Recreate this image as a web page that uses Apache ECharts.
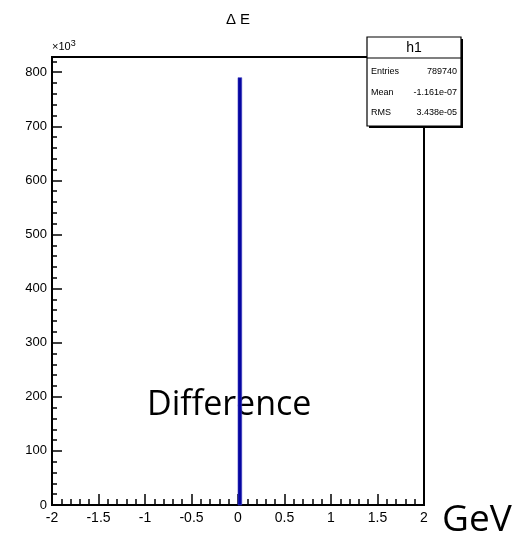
<!DOCTYPE html>
<html>
<head>
<meta charset="utf-8">
<script src="https://cdn.jsdelivr.net/npm/echarts@6/dist/echarts.min.js"></script>
<style>
html,body{margin:0;padding:0;background:#fff;}
#c{width:527px;height:536px;}
</style>
</head>
<body>
<div id="c"></div>
<script>
// Histogram data (counts in units of 10^3)
const binLow = [0];
const binHigh = [0.04];
const counts = [789.74];
const xMin = -2, xMax = 2, xStep = 0.5;
const yMin = 0, yMax = 828, yStep = 100, yMinorStep = 20;
const titleText = 'Δ E';
const histName = 'h1';
const statsLabels = ['Entries', 'Mean', 'RMS'];
const statsValues = ['789740', '-1.161e-07', '3.438e-05'];
const xUnit = 'GeV';
const noteText = 'Difference';

const chart = echarts.init(document.getElementById('c'), null, {renderer: 'canvas'});
const histData = binLow.map((lo, i) => [lo, binHigh[i], counts[i]]);
const axisFont = 'Liberation Sans, Arial, Helvetica, sans-serif';

const statsGraphic = [];
const bx = 367, by = 37, bw = 94, bh = 89;
statsGraphic.push({type: 'rect', shape: {x: bx + 2, y: by + 2, width: bw, height: bh}, style: {fill: '#000'}, z: 100});
statsGraphic.push({type: 'rect', shape: {x: bx, y: by, width: bw, height: bh}, style: {fill: '#fff', stroke: '#000', lineWidth: 1.2}, z: 101});
statsGraphic.push({type: 'line', shape: {x1: bx, y1: by + 21, x2: bx + bw, y2: by + 21}, style: {stroke: '#000', lineWidth: 1.2}, z: 102});
statsGraphic.push({type: 'text', x: bx + bw / 2, y: by + 11, style: {text: histName, fontSize: 14, fontFamily: axisFont, fill: '#000', align: 'center', verticalAlign: 'middle'}, z: 103});
statsLabels.forEach((lab, i) => {
  const yy = by + 35 + i * 20.5;
  statsGraphic.push({type: 'text', x: bx + 4, y: yy, style: {text: lab, fontSize: 9, fontFamily: axisFont, fill: '#000', align: 'left', verticalAlign: 'middle'}, z: 103});
  statsGraphic.push({type: 'text', x: bx + bw - 4, y: yy, style: {text: statsValues[i], fontSize: 9, fontFamily: axisFont, fill: '#000', align: 'right', verticalAlign: 'middle'}, z: 103});
});

const option = {
  backgroundColor: '#fff',
  animation: false,
  grid: {left: 52, right: 103, top: 57, bottom: 31, show: true, borderColor: '#000', borderWidth: 2, backgroundColor: 'transparent'},
  xAxis: {
    type: 'value', min: xMin, max: xMax, interval: xStep,
    axisLine: {show: true, onZero: false, lineStyle: {color: '#000', width: 2}},
    axisTick: {show: true, inside: true, length: 11, lineStyle: {color: '#000', width: 1.5}},
    minorTick: {show: true, splitNumber: 5, length: 6, lineStyle: {color: '#000', width: 1.5}},
    splitLine: {show: false},
    axisLabel: {color: '#000', fontSize: 14, fontFamily: axisFont, margin: 6, formatter: v => String(Math.round(v * 10) / 10)}
  },
  yAxis: [{
    type: 'value', min: yMin, max: yMax, interval: yStep, position: 'left',
    axisLine: {show: true, onZero: false, lineStyle: {color: '#000', width: 2}},
    axisTick: {show: true, inside: true, length: 10, lineStyle: {color: '#000', width: 1.5}},
    splitLine: {show: false},
    axisLabel: {color: '#000', fontSize: 13, fontFamily: axisFont, margin: 5, showMaxLabel: false}
  }, {
    type: 'value', min: yMin, max: yMax, interval: yMinorStep, position: 'left',
    axisLine: {show: false, onZero: false},
    axisTick: {show: true, inside: true, length: 5, lineStyle: {color: '#000', width: 1.5}},
    splitLine: {show: false},
    axisLabel: {show: false}
  }],
  series: [{
    type: 'custom',
    xAxisIndex: 0, yAxisIndex: 0,
    data: histData,
    encode: {x: [0, 1], y: 2},
    renderItem: function (params, api) {
      const p0 = api.coord([api.value(0), api.value(2)]);
      const p1 = api.coord([api.value(1), 0]);
      return {type: 'rect', shape: {x: p0[0], y: p0[1], width: p1[0] - p0[0], height: p1[1] - p0[1]}, style: {fill: '#0606a0', stroke: '#3a3ac0', lineWidth: 0.6}};
    },
    z: 5
  }],
  graphic: [
    {type: 'text', x: 238, y: 20, style: {text: titleText, fontSize: 15, fontFamily: axisFont, fill: '#000', align: 'center', verticalAlign: 'middle'}},
    {type: 'text', x: 52, y: 47, style: {text: '×10{s|3}', fontSize: 11, fontFamily: axisFont, fill: '#000', align: 'left', verticalAlign: 'middle', rich: {s: {fontSize: 9, fontFamily: axisFont, verticalAlign: 'top', padding: [0, 0, 6, 0]}}}},
    {type: 'text', x: 147, y: 405, style: {text: noteText, fontSize: 34, fontFamily: 'Open Sans, Lato, sans-serif', fill: '#000', align: 'left', verticalAlign: 'middle'}, z: 1},
    {type: 'text', x: 442, y: 520, style: {text: xUnit, fontSize: 37, fontFamily: 'Open Sans, Lato, sans-serif', fill: '#000', align: 'left', verticalAlign: 'middle'}},
    ...statsGraphic
  ]
};
chart.setOption(option);
</script>
</body>
</html>
